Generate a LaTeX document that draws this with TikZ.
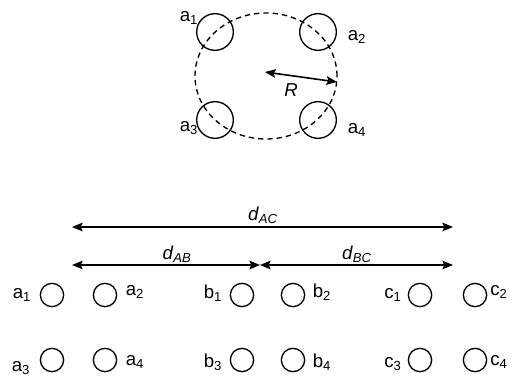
\documentclass[tikz,border=0pt]{standalone}
\usepackage{fontspec}
\setmainfont{Liberation Sans}
\usetikzlibrary{arrows.meta,positioning}

\newcommand{\lab}[2]{#1\textsubscript{#2}}
\newcommand{\dist}[1]{\textit{d}\textsubscript{\textit{#1}}}

\begin{document}
\begin{tikzpicture}[
    x=0.75pt, y=-0.75pt,
    >={Stealth[length=8pt, width=6.5pt, inset=1.5pt]},
    every node/.style={font=\fontsize{14}{16}\selectfont},
    bigcond/.style = {draw, circle, line width=1pt, minimum size=27.5pt, inner sep=0pt},
    cond/.style    = {draw, circle, line width=1pt, minimum size=17.5pt, inner sep=0pt},
    dim/.style     = {<->, line width=1.2pt},
  ]
\useasboundingbox (0,0) rectangle (513,378);

% defining coordinates
% bundle
\coordinate (O) at (266,76);
\coordinate (Rs) at (265,72);
\coordinate (Re) at (337,82);

% distances
\coordinate (A1) at (72,227);
\coordinate (C1) at (453,227);
\coordinate (A2) at (72,265);
\coordinate (B2) at (260,265);
\coordinate (C2) at (453,265);

% bundle of four conductors
\draw [dash pattern=on 4pt off 3pt, line width=1pt] (O) ellipse [x radius=53.25pt, y radius=47.25pt];

\node (ta1) [bigcond] at (215,32) {};
\node (ta2) [bigcond] at (318,32) {};
\node (ta3) [bigcond] at (215,120) {};
\node (ta4) [bigcond] at (318,120) {};

\node (lta1) at (189,18) {\lab{a}{1}};
\node (lta2) at (357,37) {\lab{a}{2}};
\node (lta3) at (189,128) {\lab{a}{3}};
\node (lta4) at (357,130) {\lab{a}{4}};

\draw [<->, line width=1.2pt] (Rs) -- (Re);
\node (lR) at (291,90) {\textit{R}};

% phase distances
\draw [dim] (A1) -- (C1);
\draw [dim] (A2) -- (B2);
\draw [dim] (B2) -- (C2);

\node (ldAC) at (263,215) {\dist{AC}};
\node (ldAB) at (177,254) {\dist{AB}};
\node (ldBC) at (357,254) {\dist{BC}};

% three phases
\foreach \n/\x/\y in {a1/52/295, a2/105/295, b1/242/295, b2/293/295, c1/420/295, c2/475/295,
                      a3/52/360, a4/105/360, b3/242/360, b4/293/360, c3/420/360, c4/475/360}
    \node (\n) [cond] at (\x,\y) {};

\foreach \n/\p/\i/\x/\y in {a1/a/1/22/295, a2/a/2/135/292, b1/b/1/213/293, b2/b/2/322/292, c1/c/1/393/295, c2/c/2/499/292,
                            a3/a/3/21/368, a4/a/4/135/362, b3/b/3/213/362, b4/b/4/322/362, c3/c/3/393/364, c4/c/4/499/362}
    \node (l\n) at (\x,\y) {\lab{\p}{\i}};

\end{tikzpicture}
\end{document}
